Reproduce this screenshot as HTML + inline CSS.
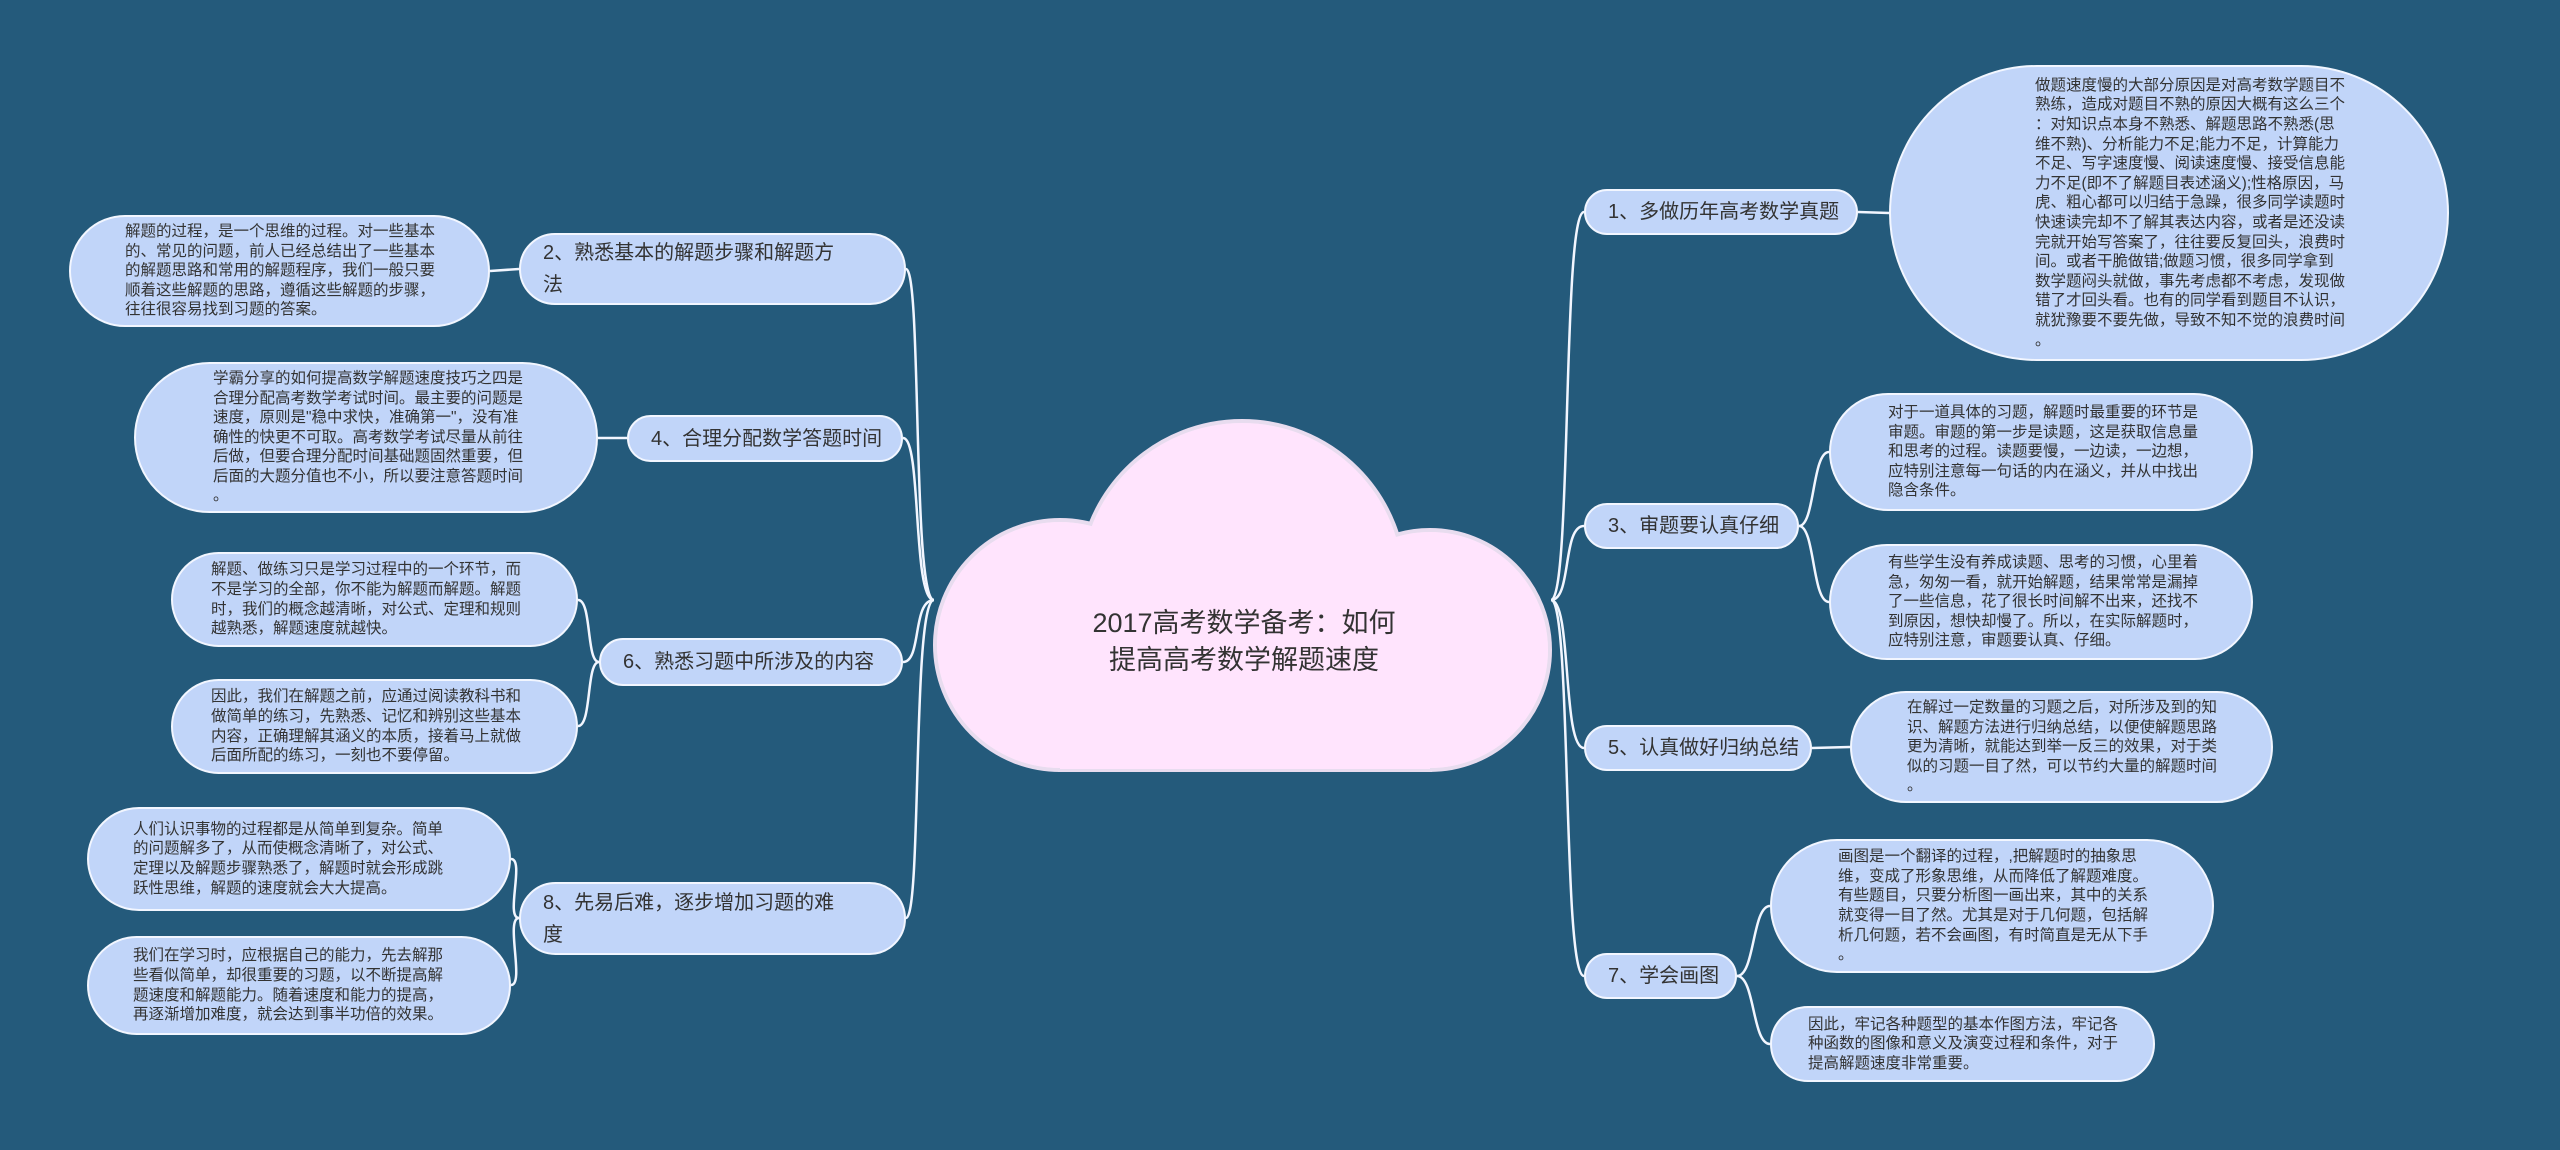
<!DOCTYPE html>
<html><head><meta charset="utf-8"><style>
html,body{margin:0;padding:0}
body{width:2560px;height:1150px;background:#245a7b;position:relative;overflow:hidden;font-family:"Liberation Sans","Noto Sans CJK SC",sans-serif;color:#333}
.n{position:absolute;box-sizing:border-box;background:#c1d5f9;border:2px solid #f2f6ff;border-radius:999px;display:flex;align-items:center}
.b{font-size:20px;line-height:32px;padding:0 22px;white-space:nowrap}
.l{font-size:15.5px;line-height:19.6px;white-space:nowrap}
svg{position:absolute;left:0;top:0}
</style></head><body>
<svg width="2560" height="1150">
<g fill="none" stroke="#f2f6ff" stroke-width="2.5">
<path d="M1551,600 C1572,600 1562,212 1584,212"/>
<path d="M1551,600 C1572,600 1562,526 1584,526"/>
<path d="M1551,600 C1572,600 1562,748 1584,748"/>
<path d="M1551,600 C1572,600 1562,976 1584,976"/>
<path d="M934,600 C912,600 922,269 906,269"/>
<path d="M934,600 C912,600 922,438 903,438"/>
<path d="M934,600 C912,600 922,662 903,662"/>
<path d="M934,600 C912,600 922,918 906,918"/>
<path d="M1858,212 L1889,213"/>
<path d="M1799,526 C1815,526 1812,452 1829,452"/>
<path d="M1799,526 C1815,526 1812,602 1829,602"/>
<path d="M1812,748 L1850,747"/>
<path d="M1737,976 C1755,976 1752,906 1770,906"/>
<path d="M1737,976 C1755,976 1752,1044 1770,1044"/>
<path d="M519,269 L490,271"/>
<path d="M627,438 L598,438"/>
<path d="M599,662 C586,662 592,600 578,600"/>
<path d="M599,662 C586,662 592,726 578,726"/>
<path d="M519,918 C505,918 525,859 511,859"/>
<path d="M519,918 C505,918 525,985 511,985"/>
</g>
<g fill="#f4eaf6" stroke="#e8dcef" stroke-width="4">
<circle cx="1242" cy="584" r="163"/>
<circle cx="1060" cy="645" r="125"/>
<circle cx="1430" cy="650" r="120"/>
<rect x="1060" y="600" width="370" height="170"/>
</g>
<g fill="#ffe4fd">
<circle cx="1242" cy="584" r="161"/>
<circle cx="1060" cy="645" r="123"/>
<circle cx="1430" cy="650" r="118"/>
<rect x="1060" y="600" width="370" height="169"/>
</g>
<text x="1244" y="632" font-size="27" text-anchor="middle" fill="#333" font-family="Liberation Sans, Noto Sans CJK SC, sans-serif">2017高考数学备考：如何</text>
<text x="1244" y="669" font-size="27" text-anchor="middle" fill="#333" font-family="Liberation Sans, Noto Sans CJK SC, sans-serif">提高高考数学解题速度</text>
</svg>

<div class="n b" style="left:1584px;top:189px;width:274px;height:46px">1、多做历年高考数学真题</div>
<div class="n l" style="left:1889px;top:65px;width:560px;height:296px;padding-left:144px">做题速度慢的大部分原因是对高考数学题目不<br>熟练，造成对题目不熟的原因大概有这么三个<br>：对知识点本身不熟悉、解题思路不熟悉(思<br>维不熟)、分析能力不足;能力不足，计算能力<br>不足、写字速度慢、阅读速度慢、接受信息能<br>力不足(即不了解题目表述涵义);性格原因，马<br>虎、粗心都可以归结于急躁，很多同学读题时<br>快速读完却不了解其表达内容，或者是还没读<br>完就开始写答案了，往往要反复回头，浪费时<br>间。或者干脆做错;做题习惯，很多同学拿到<br>数学题闷头就做，事先考虑都不考虑，发现做<br>错了才回头看。也有的同学看到题目不认识，<br>就犹豫要不要先做，导致不知不觉的浪费时间<br>。</div>

<div class="n b" style="left:1584px;top:503px;width:215px;height:46px">3、审题要认真仔细</div>
<div class="n l" style="left:1829px;top:393px;width:424px;height:118px;padding-left:57px">对于一道具体的习题，解题时最重要的环节是<br>审题。审题的第一步是读题，这是获取信息量<br>和思考的过程。读题要慢，一边读，一边想，<br>应特别注意每一句话的内在涵义，并从中找出<br>隐含条件。</div>
<div class="n l" style="left:1829px;top:544px;width:424px;height:116px;padding-left:57px">有些学生没有养成读题、思考的习惯，心里着<br>急，匆匆一看，就开始解题，结果常常是漏掉<br>了一些信息，花了很长时间解不出来，还找不<br>到原因，想快却慢了。所以，在实际解题时，<br>应特别注意，审题要认真、仔细。</div>

<div class="n b" style="left:1584px;top:725px;width:228px;height:46px">5、认真做好归纳总结</div>
<div class="n l" style="left:1850px;top:691px;width:423px;height:112px;padding-left:55px">在解过一定数量的习题之后，对所涉及到的知<br>识、解题方法进行归纳总结，以便使解题思路<br>更为清晰，就能达到举一反三的效果，对于类<br>似的习题一目了然，可以节约大量的解题时间<br>。</div>

<div class="n b" style="left:1584px;top:953px;width:153px;height:46px">7、学会画图</div>
<div class="n l" style="left:1770px;top:839px;width:444px;height:134px;padding-left:66px">画图是一个翻译的过程，,把解题时的抽象思<br>维，变成了形象思维，从而降低了解题难度。<br>有些题目，只要分析图一画出来，其中的关系<br>就变得一目了然。尤其是对于几何题，包括解<br>析几何题，若不会画图，有时简直是无从下手<br>。</div>
<div class="n l" style="left:1770px;top:1006px;width:385px;height:76px;padding-left:36px">因此，牢记各种题型的基本作图方法，牢记各<br>种函数的图像和意义及演变过程和条件，对于<br>提高解题速度非常重要。</div>

<div class="n b" style="left:519px;top:233px;width:387px;height:72px;white-space:normal">2、熟悉基本的解题步骤和解题方<br>法</div>
<div class="n l" style="left:69px;top:215px;width:421px;height:112px;padding-left:54px">解题的过程，是一个思维的过程。对一些基本<br>的、常见的问题，前人已经总结出了一些基本<br>的解题思路和常用的解题程序，我们一般只要<br>顺着这些解题的思路，遵循这些解题的步骤，<br>往往很容易找到习题的答案。</div>

<div class="n b" style="left:627px;top:415px;width:276px;height:47px">4、合理分配数学答题时间</div>
<div class="n l" style="left:134px;top:362px;width:464px;height:151px;padding-left:77px">学霸分享的如何提高数学解题速度技巧之四是<br>合理分配高考数学考试时间。最主要的问题是<br>速度，原则是"稳中求快，准确第一"，没有准<br>确性的快更不可取。高考数学考试尽量从前往<br>后做，但要合理分配时间基础题固然重要，但<br>后面的大题分值也不小，所以要注意答题时间<br>。</div>

<div class="n b" style="left:599px;top:638px;width:304px;height:48px">6、熟悉习题中所涉及的内容</div>
<div class="n l" style="left:171px;top:552px;width:407px;height:95px;padding-left:38px">解题、做练习只是学习过程中的一个环节，而<br>不是学习的全部，你不能为解题而解题。解题<br>时，我们的概念越清晰，对公式、定理和规则<br>越熟悉，解题速度就越快。</div>
<div class="n l" style="left:171px;top:679px;width:407px;height:95px;padding-left:38px">因此，我们在解题之前，应通过阅读教科书和<br>做简单的练习，先熟悉、记忆和辨别这些基本<br>内容，正确理解其涵义的本质，接着马上就做<br>后面所配的练习，一刻也不要停留。</div>

<div class="n b" style="left:519px;top:882px;width:387px;height:73px;white-space:normal">8、先易后难，逐步增加习题的难<br>度</div>
<div class="n l" style="left:87px;top:807px;width:424px;height:104px;padding-left:44px">人们认识事物的过程都是从简单到复杂。简单<br>的问题解多了，从而使概念清晰了，对公式、<br>定理以及解题步骤熟悉了，解题时就会形成跳<br>跃性思维，解题的速度就会大大提高。</div>
<div class="n l" style="left:87px;top:936px;width:424px;height:99px;padding-left:44px">我们在学习时，应根据自己的能力，先去解那<br>些看似简单，却很重要的习题，以不断提高解<br>题速度和解题能力。随着速度和能力的提高，<br>再逐渐增加难度，就会达到事半功倍的效果。</div>
</body></html>
